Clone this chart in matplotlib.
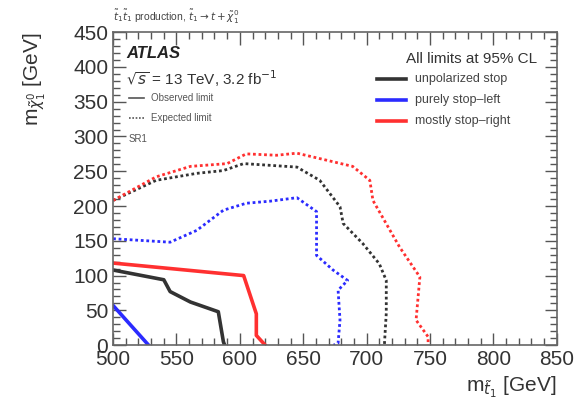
import matplotlib
matplotlib.use("Agg")
import matplotlib.pyplot as plt
from matplotlib.ticker import MultipleLocator

plt.rcParams["font.family"] = ["Liberation Sans", "DejaVu Sans"]

# observed limits (solid)
obs_unpol_x = [500, 540, 545, 561, 583, 587, 588]
obs_unpol_y = [108, 94, 77, 62, 48, 5, 0]
obs_left_x = [500, 528]
obs_left_y = [57, 0]
obs_right_x = [500, 603, 613, 613, 620]
obs_right_y = [118, 100, 45, 14, 0]

# expected limits (dotted)
exp_unpol_x = [500, 534, 566, 587, 603, 645, 663, 679, 681.5, 697, 710, 715.5, 715.5, 714]
exp_unpol_y = [208, 237, 247, 251, 261, 256, 237, 199, 175, 146, 117, 93, 46, 0]
exp_left_x = [500, 545, 566, 587, 605, 624, 645, 660.5, 660.5, 673.5, 685, 677.5, 679, 677.5, 674]
exp_left_y = [153, 148, 165, 194, 204, 207, 212, 192, 129, 108, 93, 79, 36, 3, 0]
exp_right_x = [500, 534, 561, 590, 605, 629, 645, 689, 702.5, 705, 726, 742, 739, 748.5, 748.5]
exp_right_y = [208, 242, 257, 261, 275, 273, 276, 257, 237, 208, 141, 98, 36, 12, 0]

c_unpol = "#333333"
c_left = "#2b2bff"
c_right = "#ff3030"

fig = plt.figure(figsize=(5.74, 4.07), dpi=100)
ax = fig.add_axes([0.197, 0.152, 0.773, 0.769])

ax.plot(obs_unpol_x, obs_unpol_y, color=c_unpol, lw=2.6)
ax.plot(obs_left_x, obs_left_y, color=c_left, lw=2.6)
ax.plot(obs_right_x, obs_right_y, color=c_right, lw=2.6)
ax.plot(exp_unpol_x, exp_unpol_y, color=c_unpol, lw=2.0, ls=(0, (1, 1)))
ax.plot(exp_left_x, exp_left_y, color=c_left, lw=2.0, ls=(0, (1, 1)))
ax.plot(exp_right_x, exp_right_y, color=c_right, lw=2.0, ls=(0, (1, 1)))

ax.set_xlim(500, 850)
ax.set_ylim(0, 450)
ax.xaxis.set_major_locator(MultipleLocator(50))
ax.xaxis.set_minor_locator(MultipleLocator(10))
ax.yaxis.set_major_locator(MultipleLocator(50))
ax.yaxis.set_minor_locator(MultipleLocator(10))
ax.tick_params(which="both", direction="in", top=True, right=True,
               color="#555555", labelsize=15, labelcolor="#333333")
ax.tick_params(which="major", length=9, width=1)
ax.tick_params(which="minor", length=5, width=1)
for s in ax.spines.values():
    s.set_color("#666666")
    s.set_linewidth(1.2)

ax.set_xlabel(r"m$_{\tilde{t}_1}$ [GeV]", fontsize=15, color="#333333",
              loc="right", labelpad=4)
ax.set_ylabel(r"m$_{\tilde{\chi}_1^0}$ [GeV]", fontsize=15, color="#333333",
              loc="top", labelpad=18)

fig.text(0.197, 0.935, r"$\tilde{t}_1\tilde{t}_1$ production, $\tilde{t}_1\rightarrow t+\tilde{\chi}_1^0$",
         fontsize=7.5, color="#444444", ha="left", va="bottom")

ax.text(0.03, 0.955, "ATLAS", transform=ax.transAxes, fontsize=12,
        fontweight="bold", fontstyle="italic", color="#222222", va="top")
ax.text(0.03, 0.885, r"$\sqrt{s}$ = 13 TeV, 3.2 fb$^{-1}$", transform=ax.transAxes,
        fontsize=11, color="#333333", va="top")
ax.plot([0.035, 0.07], [0.79, 0.79], transform=ax.transAxes, color="#555555", lw=1.2)
ax.text(0.085, 0.79, "Observed limit", transform=ax.transAxes, fontsize=7,
        color="#555555", va="center")
ax.plot([0.035, 0.07], [0.725, 0.725], transform=ax.transAxes, color="#555555",
        lw=1.2, ls=(0, (1, 1)))
ax.text(0.085, 0.725, "Expected limit", transform=ax.transAxes, fontsize=7,
        color="#555555", va="center")
ax.text(0.035, 0.66, "SR1", transform=ax.transAxes, fontsize=7,
        color="#555555", va="center")

ax.text(0.955, 0.915, "All limits at 95% CL", transform=ax.transAxes, fontsize=11,
        color="#333333", ha="right", va="center")
legend_items = [("unpolarized stop", c_unpol), ("purely stop\u2013left", c_left),
                ("mostly stop\u2013right", c_right)]
for i, (label, col) in enumerate(legend_items):
    yy = 0.85 - i * 0.067
    ax.plot([0.595, 0.66], [yy, yy], transform=ax.transAxes, color=col, lw=2.6)
    ax.text(0.68, yy, label, transform=ax.transAxes, fontsize=9,
            color="#444444", va="center")

fig.savefig("out.png", dpi=100)
